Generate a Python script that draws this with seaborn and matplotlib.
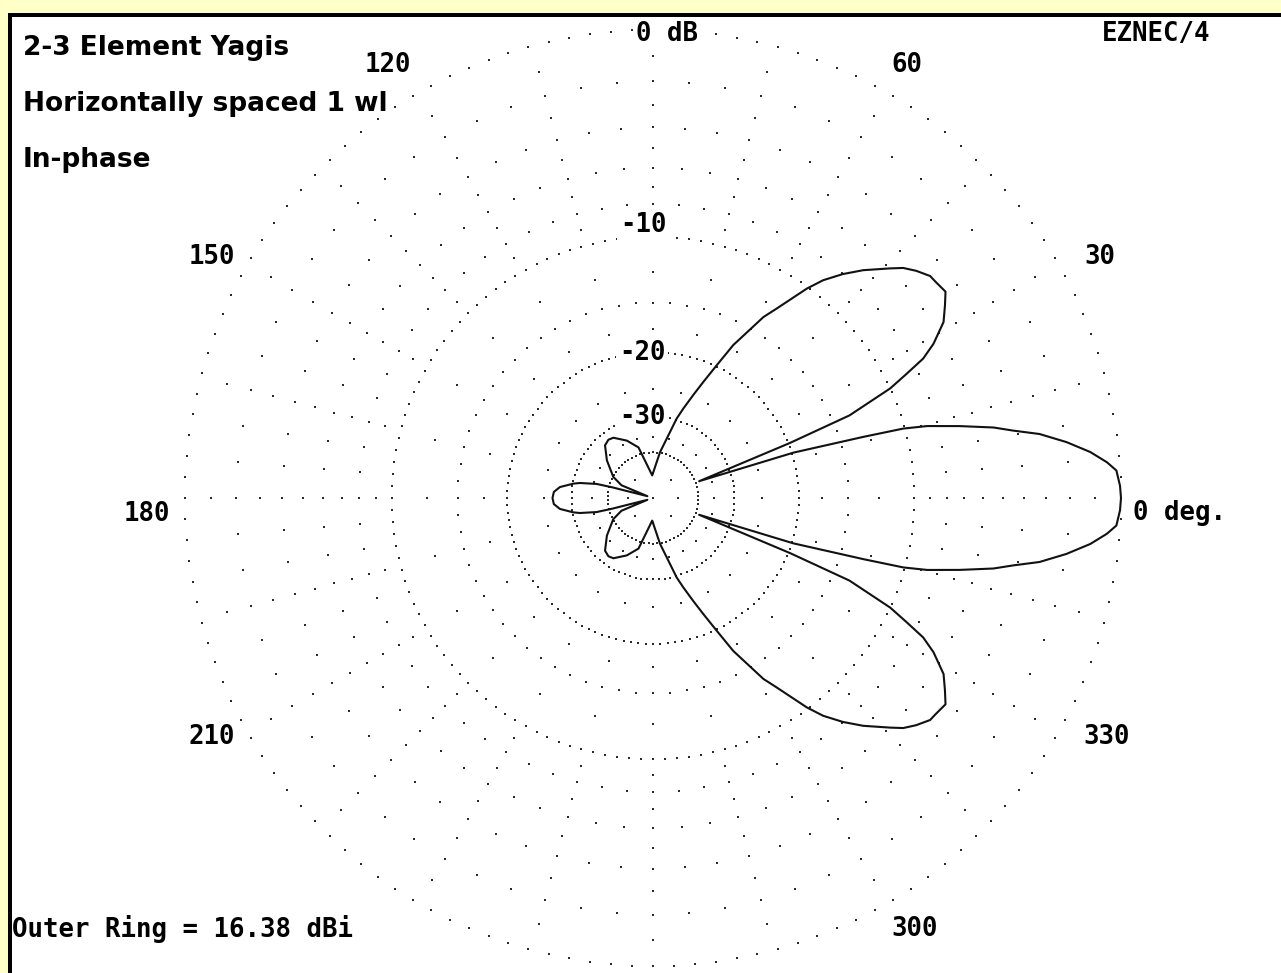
import numpy as np
import pandas as pd
import matplotlib
matplotlib.use('Agg')
import matplotlib.pyplot as plt
from matplotlib.patches import Rectangle
import seaborn as sns

# Azimuth pattern (deg, dB relative to outer ring)
AZIMUTH_DEG = [
    0.0, 1.5, 3.4, 4.5, 6.0, 7.7, 9.4, 10.6, 11.7, 13.2,
    14.7, 15.5, 16.2, 17.9, 20.0, 21.9, 22.8, 24.8, 26.1, 27.3,
    28.8, 31.2, 33.4, 35.2, 37.3, 38.7, 40.8, 42.6, 44.1, 47.3,
    49.7, 52.0, 53.7, 56.9, 58.6, 62.3, 64.4, 66.6,
    68.6, 71.3, 73.4, 81.3, 92.0, 106.0, 114.5, 123.3, 127.4, 132.3,
    140.8, 152.0, 158.0, 162.0, 165.0, 165.3, 166.0, 168.4, 169.8, 173.3,
    176.5, 180.0,
    183.5, 186.7, 190.2, 191.6, 194.0, 194.7, 195.0, 198.0, 202.0, 208.0,
    219.2, 227.7, 232.6, 236.7, 245.5, 254.0, 268.0, 278.7, 286.6, 288.7,
    291.4, 293.4, 295.6, 297.7, 301.4, 303.1, 306.3, 308.0,
    310.3, 312.7, 315.9, 317.4, 319.2, 321.3, 322.7, 324.8, 326.6, 328.8,
    331.2, 332.7, 333.9, 335.2, 337.2, 338.1, 340.0, 342.1, 343.8, 344.5,
    345.3, 346.8, 348.3, 349.4, 350.6, 352.3, 354.0, 355.5, 356.6, 358.5,
    360.0,
]
GAIN_DB = [
    0.0, -0.03, -0.14, -0.47, -1.07, -1.97, -3.05, -4.2, -5.1, -6.8,
    -8.6, -10.1, -13.0, -19.8, -38.7, -19.8, -13.5, -10.0, -8.66, -7.4,
    -6.52, -5.5, -5.0, -4.6, -4.7, -4.74, -5.1, -5.49, -6.0, -7.07,
    -8.0, -9.04, -10.1, -12.5, -13.59, -17.1, -19.9, -22.5,
    -24.7, -27.5, -29.7, -39.7, -52.0, -37.5, -34.4, -32.1, -31.8, -32.3,
    -35.4, -40.2, -45.0, -75.0, -50.0, -41.4, -35.8, -31.5, -30.1, -27.6,
    -26.6, -26.4,
    -26.6, -27.6, -30.1, -31.5, -35.8, -41.4, -50.0, -75.0, -45.0, -40.2,
    -35.4, -32.3, -31.8, -32.1, -34.4, -37.5, -52.0, -39.7, -29.7, -27.5,
    -24.7, -22.5, -19.9, -17.1, -13.59, -12.5, -10.1, -9.04,
    -8.0, -7.07, -6.0, -5.49, -5.1, -4.74, -4.7, -4.6, -5.0, -5.5,
    -6.52, -7.4, -8.66, -10.0, -13.5, -19.8, -38.7, -19.8, -13.0, -10.1,
    -8.6, -6.8, -5.1, -4.2, -3.05, -1.97, -1.07, -0.47, -0.14, -0.03,
    0.0,
]

RING_LABELS = ['0 dB', '-10', '-20', '-30']
ANGLE_LABELS = ['120', '60', '150', '30', '180', '210', '330', '300']
TITLE_LINES = ['2-3 Element Yagis', 'Horizontally spaced 1 wl', 'In-phase']
OUTER_RING_DBI = 16.38
PROGRAM = 'EZNEC/4'

W, H = 1281, 973
CX, CY = 653, 498      # plot centre in image pixels (from top-left)
R_OUT = 468            # outer ring radius, px
BG_YELLOW = '#FFFFC8'
DOT = '#2a2a2a'

assert len(AZIMUTH_DEG) == len(GAIN_DB)


def arrl_r(db):
    """ARRL log scale: every 2 dB down is 0.89 x radius."""
    return R_OUT * 0.89 ** (-np.asarray(db, dtype=float) / 2.0)


def px(x, y):
    """image pixel -> data coords (origin at plot centre, y up)"""
    return x - CX, CY - y


sns.set_style('white')
plt.rcParams['font.family'] = ['DejaVu Sans']

fig = plt.figure(figsize=(W / 100, H / 100), dpi=100, facecolor=BG_YELLOW)
ax = fig.add_axes([12 / W, 0, (W - 12) / W, (H - 17) / H])
ax.set_facecolor('white')
ax.set_xlim(12 - CX, W - CX)
ax.set_ylim(CY - H, CY - 17)
ax.set_xticks([])
ax.set_yticks([])
for s in ax.spines.values():
    s.set_visible(False)

# black frame lines (top and left), yellow page around
fig.add_artist(Rectangle((8 / W, 0), 4 / W, (H - 13) / H, transform=fig.transFigure,
                         facecolor='black', edgecolor='none'))
fig.add_artist(Rectangle((8 / W, (H - 17) / H), (W - 8) / W, 4 / H, transform=fig.transFigure,
                         facecolor='black', edgecolor='none'))

# --- grid: dotted rings -------------------------------------------------
gx, gy = [], []
for db, n in [(0, 140), (-10, 136), (-20, 124), (-30, 88), (-40, 66)]:
    t = np.deg2rad(np.arange(n) * 360.0 / n + 90)
    gx.append(arrl_r(db) * np.cos(t))
    gy.append(arrl_r(db) * np.sin(t))

# sparse dots along spokes: (level dB, angular step deg)
for db, step in [(-1, 15), (-2, 5), (-3, 15), (-4, 5), (-5, 15), (-6, 5), (-7, 15),
                 (-8, 5), (-9, 15), (-12.5, 15), (-15, 5), (-17.5, 15), (-25, 15),
                 (-35, 15), (-50, 45)]:
    t = np.deg2rad(np.arange(0, 360, step))
    gx.append(arrl_r(db) * np.cos(t))
    gy.append(arrl_r(db) * np.sin(t))
gx.append(np.array([0.0]))
gy.append(np.array([0.0]))
ax.scatter(np.concatenate(gx), np.concatenate(gy), s=2.6, marker='s', color=DOT,
           linewidths=0, zorder=1)

# --- pattern -------------------------------------------------------------
theta = np.deg2rad(AZIMUTH_DEG)
rad = arrl_r(GAIN_DB)
df = pd.DataFrame({'x': rad * np.cos(theta), 'y': rad * np.sin(theta)})
sns.lineplot(data=df, x='x', y='y', sort=False, estimator=None, color='#111111',
             linewidth=1.5, ax=ax, zorder=3)
ax.set_xlabel('')
ax.set_ylabel('')

# --- labels --------------------------------------------------------------
mono = dict(family='DejaVu Sans Mono', weight='bold', size=18.5, color='black')
half_cap = 9.4
box = dict(boxstyle='square,pad=0.12', facecolor='white', edgecolor='none')

ring_pos = [(667, 32), (643, 223), (642, 351), (642, 415)]
for lab, (x, y) in zip(RING_LABELS, ring_pos):
    ax.text(*px(x, y + half_cap), lab, ha='center', va='baseline', bbox=box, zorder=4, **mono)

angle_pos = [(388, 63), (907, 63), (212, 255), (1100, 255), (147, 512),
             (212, 735), (1107, 735), (915, 927)]
for lab, (x, y) in zip(ANGLE_LABELS, angle_pos):
    ax.text(*px(x, y + half_cap), lab, ha='center', va='baseline', bbox=box, zorder=4, **mono)

ax.text(*px(1133, 511 + half_cap), '0 deg.', ha='left', va='baseline', zorder=4, **mono)
ax.text(*px(1156, 32 + half_cap), PROGRAM, ha='center', va='baseline', zorder=4, **mono)
ax.text(*px(12, 928 + half_cap), f'Outer Ring = {OUTER_RING_DBI:.2f} dBi',
        ha='left', va='baseline', zorder=4, **mono)

title_font = dict(family='DejaVu Sans', weight='bold', size=19, color='black')
for line, yc in zip(TITLE_LINES, [46, 102, 158]):
    ax.text(*px(23, yc + 9), line, ha='left', va='baseline', zorder=4, **title_font)

fig.savefig('out.png', dpi=100, facecolor=fig.get_facecolor())
